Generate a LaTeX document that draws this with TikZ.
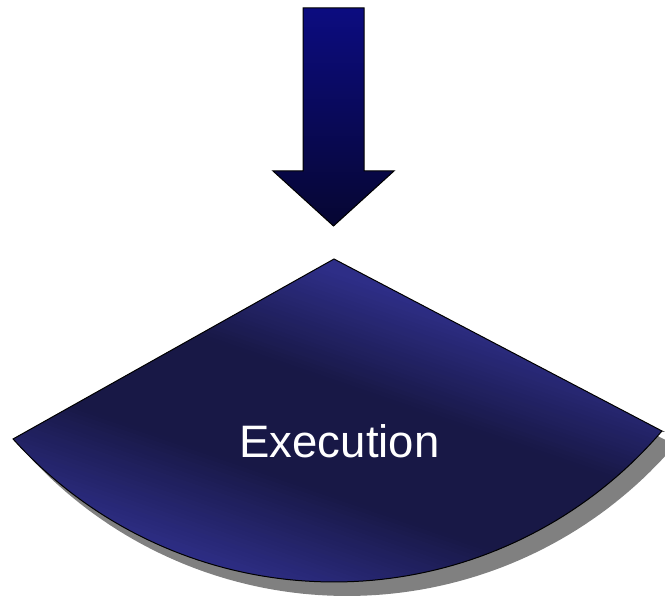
\documentclass[tikz,border=0pt]{standalone}
\usepackage{fontspec}
\setmainfont{Liberation Sans}
\definecolor{wl}{RGB}{46,46,135}
\definecolor{wd}{RGB}{24,24,70}
\definecolor{arrtop}{RGB}{12,12,128}
\definecolor{arrbot}{RGB}{6,6,50}
\definecolor{shadowgray}{RGB}{128,128,128}
\tikzset{
  outline/.style={draw=black, line width=1pt, line join=miter},
  labeltext/.style={text=white, font=\fontsize{45.5}{50}\selectfont, inner sep=0pt}
}
\def\wedgepath{(334,259) -- (662,431) -- plot[domain=40.56:138.03, samples=80] ({334+431.7*cos(\x)},{150.3+431.7*sin(\x)}) -- cycle}
\begin{document}
\begin{tikzpicture}[x=1pt, y=-1pt]
\useasboundingbox (0,0) rectangle (665,599);
% down arrow
\shade[outline, top color=arrtop, bottom color=arrbot]
  (303,8) -- (364,8) -- (364,171) -- (394,171) -- (333.5,226) -- (273,171) -- (303,171) -- cycle;
% shadow of wedge
\begin{scope}[shift={(13,14)}]
\fill[shadowgray] \wedgepath;
\end{scope}
% wedge fill with diagonal gradient
\begin{scope}
\clip \wedgepath;
\begin{scope}[shift={(339,390)}, rotate=-19]
\foreach \b in {-400,-396,...,400}{
  \pgfmathsetmacro\s{\b+2}
  \pgfmathsetmacro\q{\s<0 ? (-5-\s)/105 : (\s-100)/110}
  \pgfmathsetmacro\p{100*min(1,max(0,\q))}
  \fill[wl!\p!wd] (-800,\b) rectangle (800,\b+5);
}
\end{scope}
\end{scope}
\draw[outline] \wedgepath;
\node[labeltext, anchor=base] (exec) at (339.5,457) {Execution};
\end{tikzpicture}
\end{document}
